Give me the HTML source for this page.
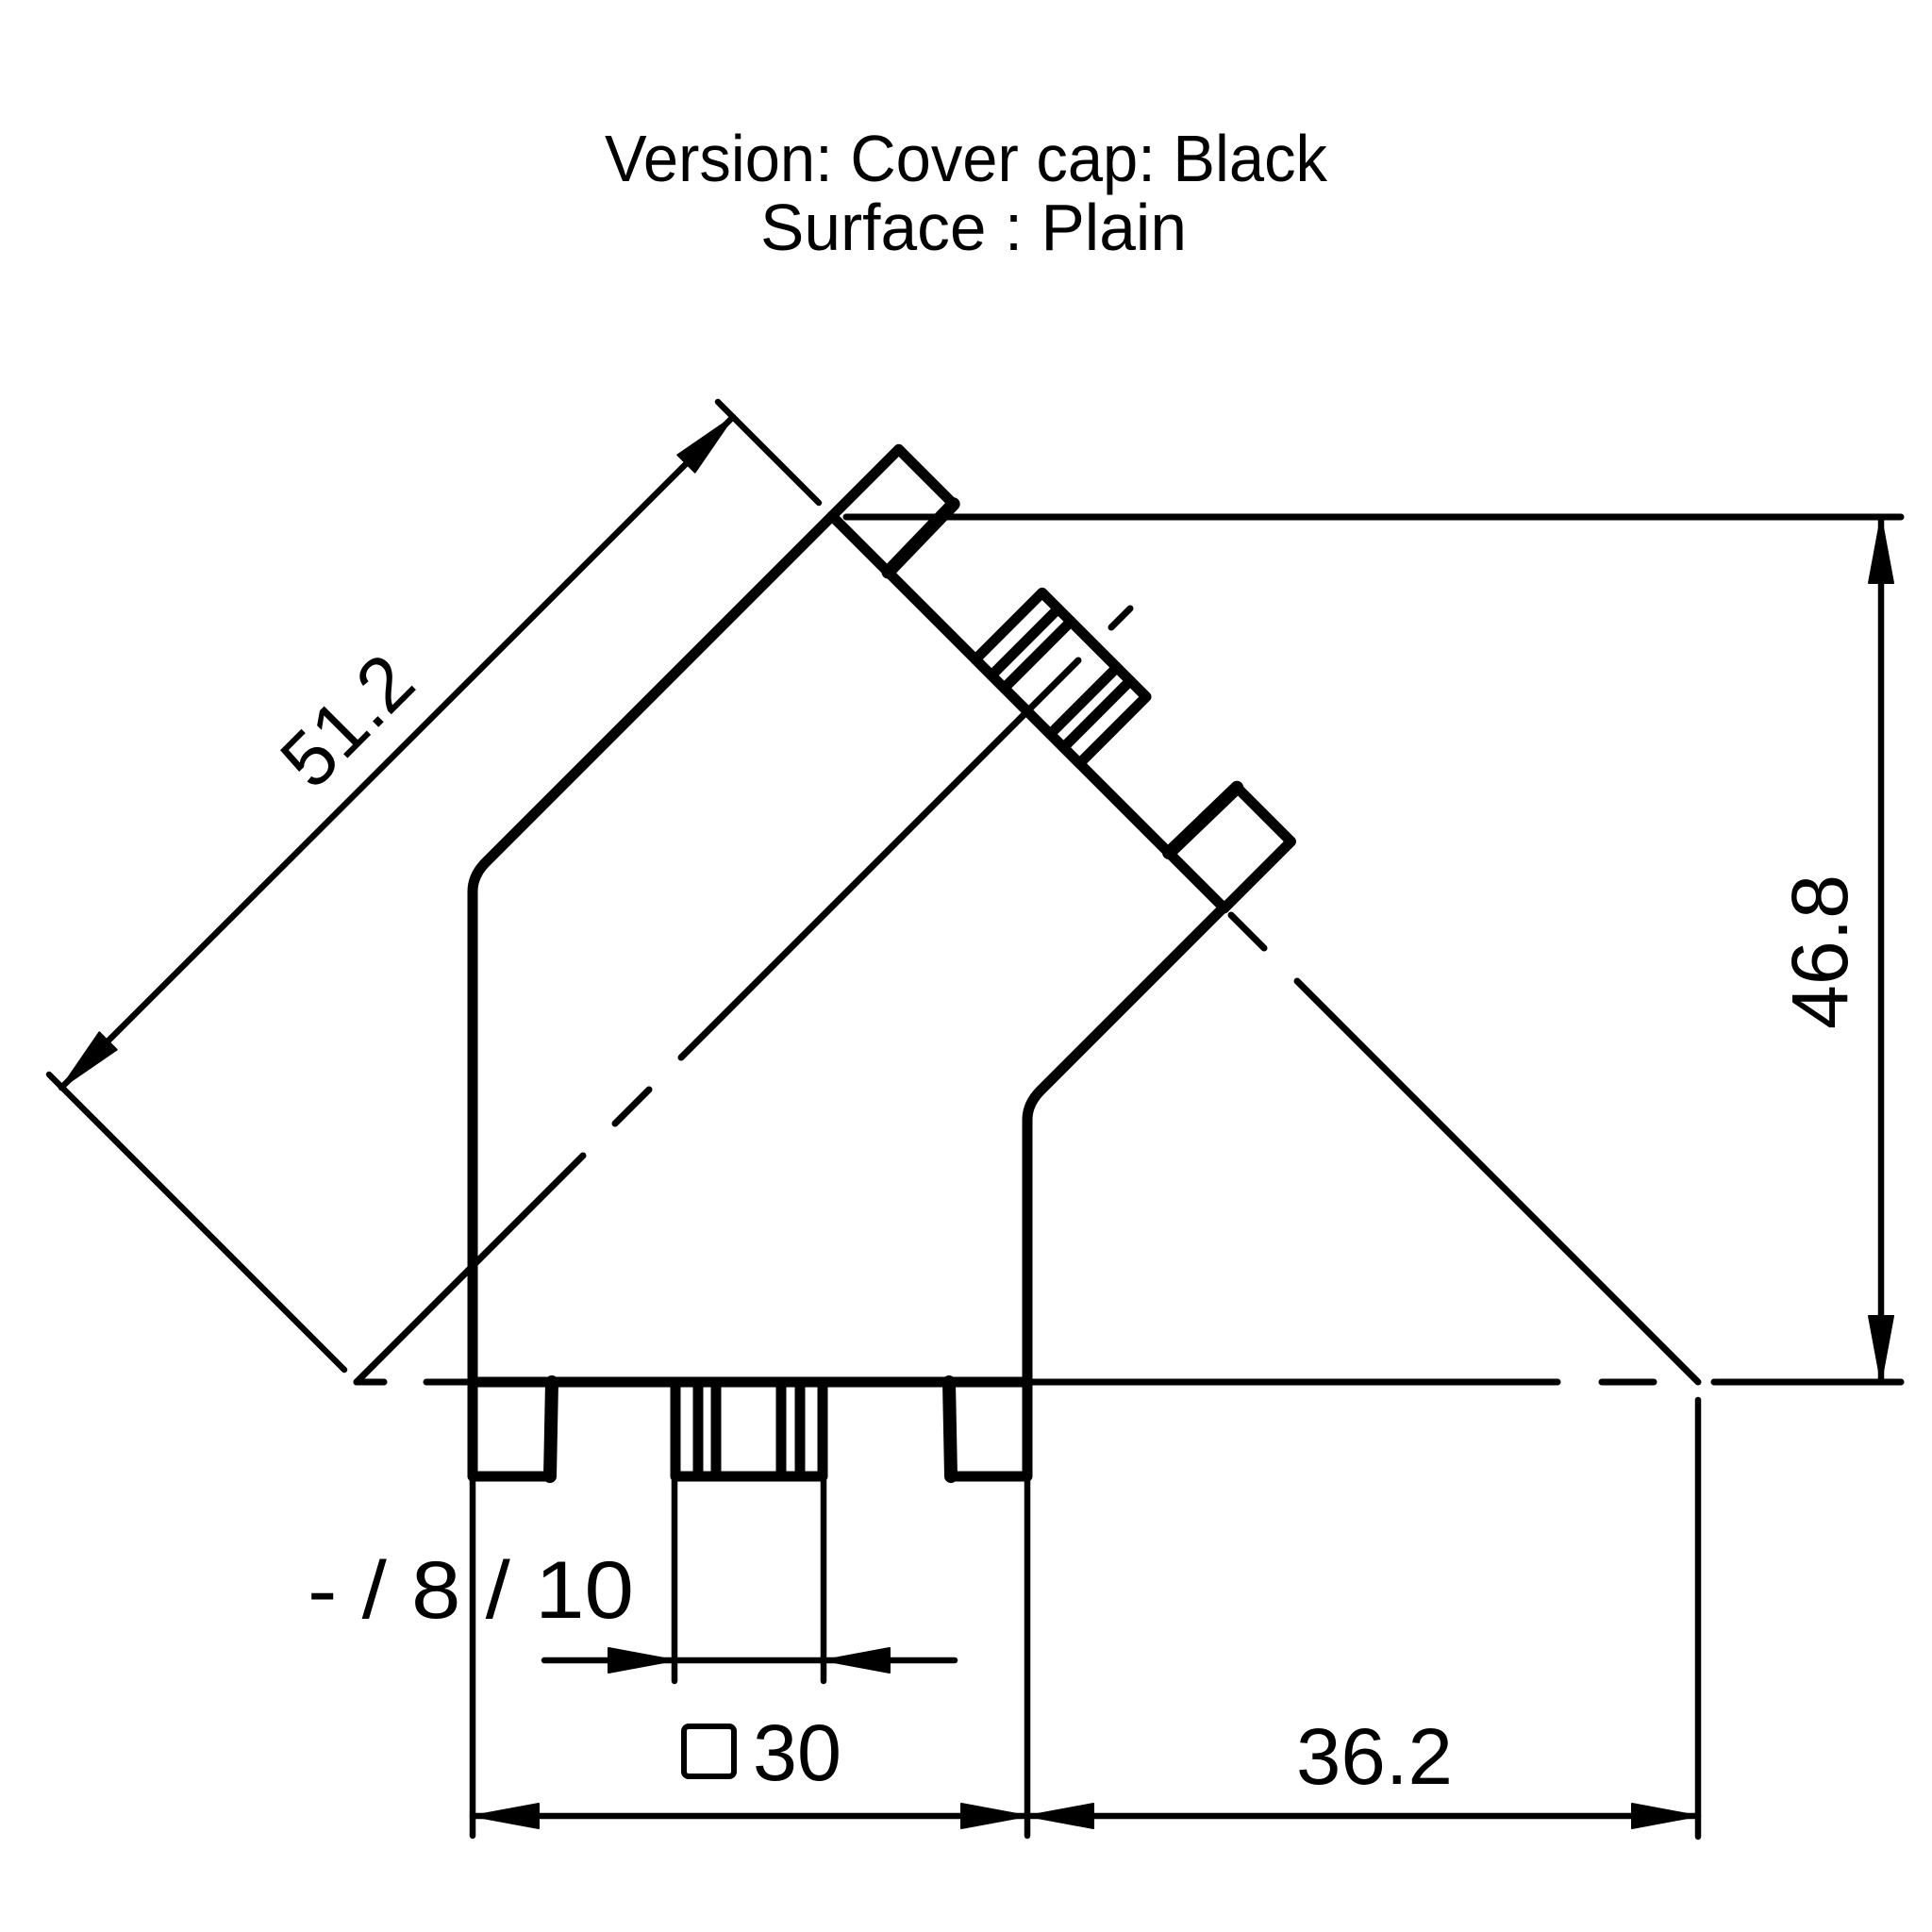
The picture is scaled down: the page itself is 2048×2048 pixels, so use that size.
<!DOCTYPE html>
<html>
<head>
<meta charset="utf-8">
<style>
html,body{margin:0;padding:0;background:#fff;}
svg{display:block;}
</style>
</head>
<body>
<svg width="2048" height="2048" viewBox="0 0 2048 2048" xmlns="http://www.w3.org/2000/svg">
<rect width="2048" height="2048" fill="#fff"/>

<!-- Title -->
<g font-family="Liberation Sans, Arial, sans-serif" fill="#000">
  <text x="1024" y="192" font-size="70" text-anchor="middle" textLength="766" lengthAdjust="spacingAndGlyphs">Version: Cover cap: Black</text>
  <text x="1032" y="265" font-size="70" text-anchor="middle" textLength="452" lengthAdjust="spacingAndGlyphs">Surface : Plain</text>
</g>

<!-- Feature group: base edge with feet and slot (bottom view) -->
<defs>
  <g id="feat" fill="none" stroke="#000" stroke-width="11" stroke-linejoin="round" stroke-linecap="round">
    <line x1="501" y1="1465" x2="1089" y2="1465"/>
    <polyline points="501,1465 501,1565 583,1565"/>
    <line x1="585" y1="1465" x2="583" y2="1565" stroke-width="14"/>
    <polyline points="1008,1565 1089,1565 1089,1465"/>
    <line x1="1006" y1="1465" x2="1008" y2="1565" stroke-width="14"/>
    <rect x="716" y="1465" width="156" height="100"/>
    <line x1="740" y1="1465" x2="740" y2="1565"/>
    <line x1="759" y1="1465" x2="759" y2="1565"/>
    <line x1="828" y1="1465" x2="828" y2="1565"/>
    <line x1="848" y1="1465" x2="848" y2="1565"/>
  </g>
</defs>
<use href="#feat"/>
<use href="#feat" transform="matrix(0.70711,0.70711,0.70711,-0.70711,-508.18,1228.65)"/>

<!-- Body outline -->
<g fill="none" stroke="#000" stroke-width="11" stroke-linejoin="round" stroke-linecap="round">
  <path d="M 882 547 L 515 914 Q 501 928 501 945 L 501 1465"/>
  <path d="M 1297 962 L 1103 1156 Q 1089 1170 1089 1187 L 1089 1465"/>
</g>

<!-- Center lines and extension lines (thin) -->
<g fill="none" stroke="#000" stroke-width="7" stroke-linecap="round">
  <!-- long diagonal centerline -->
  <line x1="378" y1="1465" x2="618" y2="1225"/>
  <line x1="652" y1="1191" x2="688" y2="1155"/>
  <line x1="722" y1="1121" x2="1143" y2="700"/>
  <line x1="1178" y1="665" x2="1198" y2="645"/>
  <!-- right diagonal centerline -->
  <line x1="1305" y1="970" x2="1340" y2="1005"/>
  <line x1="1375" y1="1040" x2="1800" y2="1465"/>
  <!-- horizontal base centerline -->
  <line x1="378" y1="1465" x2="407" y2="1465"/>
  <line x1="452" y1="1465" x2="1651" y2="1465"/>
  <line x1="1698" y1="1465" x2="1753" y2="1465"/>
  <line x1="1817" y1="1465" x2="2015" y2="1465"/>
  <!-- top extension line -->
  <line x1="897" y1="548" x2="2015" y2="548"/>
</g>

<!-- Dimension lines -->
<g fill="none" stroke="#000" stroke-width="6.5" stroke-linecap="round">
  <!-- 51.2 -->
  <line x1="52" y1="1139" x2="365" y2="1452"/>
  <line x1="761" y1="426" x2="868" y2="533"/>
  <line x1="65" y1="1153" x2="777" y2="442"/>
  <!-- 46.8 -->
  <line x1="1994" y1="548" x2="1994" y2="1465"/>
  <!-- vertical extension lines -->
  <line x1="501" y1="1565" x2="501" y2="1946"/>
  <line x1="1089" y1="1565" x2="1089" y2="1946"/>
  <line x1="1800" y1="1484" x2="1800" y2="1947"/>
  <line x1="715" y1="1565" x2="715" y2="1782"/>
  <line x1="873" y1="1565" x2="873" y2="1782"/>
  <!-- slot dim -->
  <line x1="577" y1="1760" x2="1012" y2="1760"/>
  <!-- 30 / 36.2 dims -->
  <line x1="501" y1="1925" x2="1800" y2="1925"/>
</g>

<!-- Arrowheads -->
<g fill="#000" stroke="#000" stroke-width="2" stroke-linejoin="round">
  <polygon points="65,1153 123.7,1112.7 105.3,1094.3"/>
  <polygon points="777,442 736.7,500.7 718.3,482.3"/>
  <polygon points="1994,548 2007,618 1981,618"/>
  <polygon points="1994,1465 2007,1395 1981,1395"/>
  <polygon points="715,1760 645,1747 645,1773"/>
  <polygon points="873,1760 943,1747 943,1773"/>
  <polygon points="501,1925 571,1912 571,1938"/>
  <polygon points="1089,1925 1019,1912 1019,1938"/>
  <polygon points="1089,1925 1159,1912 1159,1938"/>
  <polygon points="1800,1925 1730,1912 1730,1938"/>
</g>

<!-- Square symbol -->
<rect x="725" y="1830" width="53" height="53" rx="5" fill="none" stroke="#000" stroke-width="6"/>

<!-- Dimension texts -->
<g font-family="Liberation Sans, Arial, sans-serif" fill="#000">
  <text x="388" y="784" font-size="82" text-anchor="middle" textLength="158" lengthAdjust="spacingAndGlyphs" transform="rotate(-45 388 784)">51.2</text>
  <text x="1958" y="1009" font-size="84" text-anchor="middle" textLength="164" lengthAdjust="spacingAndGlyphs" transform="rotate(-90 1958 1009)">46.8</text>
  <text x="326" y="1715" font-size="86" textLength="346" lengthAdjust="spacingAndGlyphs">- / 8 / 10</text>
  <text x="798" y="1887" font-size="84" textLength="94" lengthAdjust="spacingAndGlyphs">30</text>
  <text x="1374" y="1891" font-size="84" textLength="166" lengthAdjust="spacingAndGlyphs">36.2</text>
</g>
</svg>
</body>
</html>
